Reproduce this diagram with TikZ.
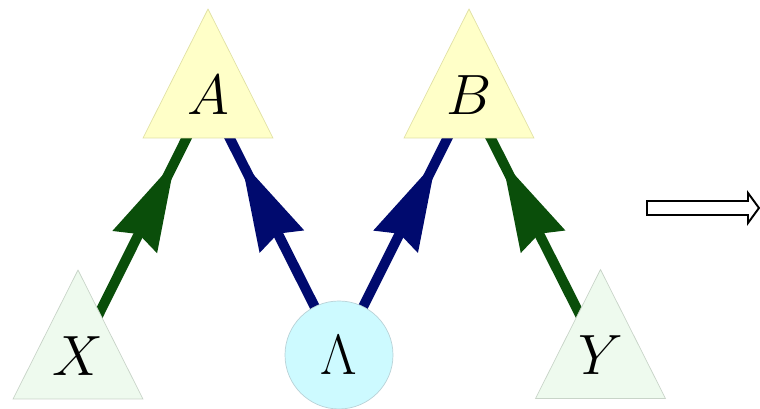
\documentclass[tikz,border=0pt]{standalone}
\usepackage{graphicx}
\usepackage{tikz}
\usetikzlibrary{shapes.geometric,arrows.meta,decorations.markings,backgrounds}
\definecolor{paleyellow}{RGB}{255,255,200}
\definecolor{paleyellowline}{RGB}{225,225,165}
\definecolor{palegreen}{RGB}{238,250,238}
\definecolor{palegreenline}{RGB}{200,212,200}
\definecolor{palecyan}{RGB}{205,250,255}
\definecolor{palecyanline}{RGB}{185,210,215}
\definecolor{edgegreen}{RGB}{10,78,10}
\definecolor{edgeblue}{RGB}{0,10,110}
\newcommand{\treesym}[1]{\scalebox{1.3}[1.134]{$#1$}}
\newcommand{\bigsym}[1]{\scalebox{1.3}{$#1$}}

\begin{document}
\begin{tikzpicture}
\tikzstyle{tree}=[regular polygon, regular polygon sides=3, minimum size=3.0cm, inner sep=0pt, outer sep=0pt, yscale=1.146, transform shape, font=\Huge]
\tikzstyle{uppertree}=[tree, draw=paleyellowline, fill=paleyellow]
\tikzstyle{lowertree}=[tree, draw=palegreenline, fill=palegreen]
\tikzstyle{vacuum}=[circle, draw=palecyanline, fill=palecyan, minimum size=2.16cm, inner sep=0pt, font=\Huge]
\tikzstyle{edge}=[line width=0.2cm, postaction=decorate, decoration={markings, mark=at position 0.745 with {\arrow{Stealth[length=1.8cm, width=1.0cm, inset=0.18cm, line width=0pt]}}}]
\useasboundingbox (0,0) rectangle (15.2,8.18);
\node[uppertree] (A) at (4.16,6.28) {\treesym{A}};
\node[uppertree] (B) at (9.38,6.28) {\treesym{B}};
\node[lowertree] (X) at (1.56,1.06) {\treesym{X}};
\node[lowertree] (Y) at (12.01,1.07) {\treesym{Y}};
\node[vacuum] (L) at (6.78,1.08) {\bigsym{\Lambda}};

\begin{scope}[on background layer]
\draw[edge, edgegreen] (X.center) -- (A.center);
\draw[edge, edgeblue] (L.center) -- (A.center);
\draw[edge, edgeblue] (L.center) -- (B.center);
\draw[edge, edgegreen] (Y.center) -- (B.center);
\end{scope}

\draw[line width=1.1pt] (12.94,4.16) -- (14.96,4.16) -- (14.96,4.32) -- (15.18,4.02) -- (14.96,3.72) -- (14.96,3.88) -- (12.94,3.88) -- cycle;
\end{tikzpicture}
\end{document}
